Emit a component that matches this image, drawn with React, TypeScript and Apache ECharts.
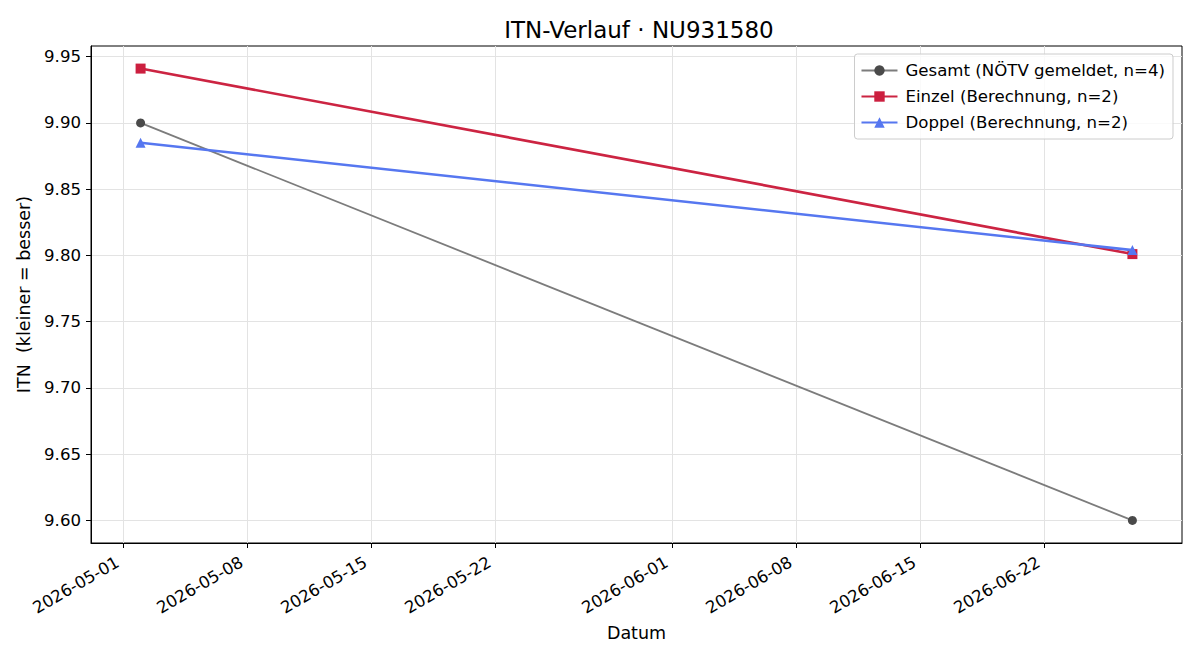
import React, { useEffect, useRef } from "react";
import * as echarts from "echarts";

// Messpunkte (Datum, ITN-Wert)
const gesamtDates = ["2026-05-02", "2026-06-27"];
const gesamtValues = [9.9, 9.6];
const einzelDates = ["2026-05-02", "2026-06-27"];
const einzelValues = [9.941, 9.801];
const doppelDates = ["2026-05-02", "2026-06-27"];
const doppelValues = [9.885, 9.804];

// Achsenbeschriftung
const xTickDates = [
  "2026-05-01",
  "2026-05-08",
  "2026-05-15",
  "2026-05-22",
  "2026-06-01",
  "2026-06-08",
  "2026-06-15",
  "2026-06-22",
];
const yTicks = [9.6, 9.65, 9.7, 9.75, 9.8, 9.85, 9.9, 9.95];

const toTime = (s: string) => {
  const [y, m, d] = s.split("-").map(Number);
  return new Date(y, m - 1, d).getTime();
};
const pad = (n: number) => (n < 10 ? "0" + n : "" + n);
const fmtDate = (t: number) => {
  const d = new Date(t);
  return `${d.getFullYear()}-${pad(d.getMonth() + 1)}-${pad(d.getDate())}`;
};

const FONT = "DejaVu Sans";

export default function App() {
  const ref = useRef<HTMLDivElement>(null);

  useEffect(() => {
    if (!ref.current) return;
    const chart = echarts.init(ref.current, undefined, { renderer: "svg" });

    const allT = [...gesamtDates, ...einzelDates, ...doppelDates].map(toTime);
    const tMin = Math.min(...allT);
    const tMax = Math.max(...allT);
    const tPad = (tMax - tMin) * 0.05;
    const allV = [...gesamtValues, ...einzelValues, ...doppelValues];
    const vMin = Math.min(...allV);
    const vMax = Math.max(...allV);
    const vPad = (vMax - vMin) * 0.05;

    const pairs = (dates: string[], vals: number[]) =>
      dates.map((d, i) => [toTime(d), vals[i]]);
    const xTickTimes = xTickDates.map(toTime);

    chart.setOption({
      animation: false,
      textStyle: { fontFamily: FONT },
      title: {
        text: "ITN-Verlauf · NU931580",
        left: 634,
        textAlign: "center",
        top: 13,
        textStyle: { fontFamily: FONT, fontSize: 23, fontWeight: "normal", color: "#000" },
      },
      legend: {
        orient: "vertical",
        right: 27,
        top: 54,
        padding: [8, 8, 8, 6],
        itemGap: 9,
        itemWidth: 36,
        itemHeight: 13,
        backgroundColor: "rgba(255,255,255,0.8)",
        borderColor: "#cccccc",
        borderWidth: 1,
        borderRadius: 3,
        textStyle: { fontFamily: FONT, fontSize: 16.6, color: "#000", padding: [0, 0, 0, 3] },
      },
      grid: {
        left: 91,
        right: 18,
        top: 46,
        bottom: 117,
        show: true,
        borderColor: "#000",
        borderWidth: 1,
        backgroundColor: "transparent",
      },
      xAxis: {
        type: "value",
        min: tMin - tPad,
        max: tMax + tPad,
        name: "Datum",
        nameLocation: "middle",
        nameGap: 81,
        nameTextStyle: { fontFamily: FONT, fontSize: 17.5, color: "#000" },
        axisLine: { show: true, lineStyle: { color: "#000", width: 1 } },
        axisTick: {
          show: true,
          length: 5,
          lineStyle: { color: "#000" },
          customValues: xTickTimes,
        },
        axisLabel: {
          rotate: 30,
          margin: 15,
          padding: [0, 6, 0, 0],
          fontFamily: FONT,
          fontSize: 16.6,
          color: "#000",
          customValues: xTickTimes,
          formatter: (v: number) => fmtDate(v),
        },
        splitLine: { show: true, lineStyle: { color: "#e3e3e3", width: 1 } },
      },
      yAxis: {
        type: "value",
        min: vMin - vPad,
        max: vMax + vPad,
        name: "ITN  (kleiner = besser)",
        nameLocation: "middle",
        nameGap: 54,
        nameTextStyle: { fontFamily: FONT, fontSize: 17.5, color: "#000" },
        axisLine: { show: true, lineStyle: { color: "#000", width: 1 } },
        axisTick: {
          show: true,
          length: 5,
          lineStyle: { color: "#000" },
          customValues: yTicks,
        },
        axisLabel: {
          margin: 10,
          fontFamily: FONT,
          fontSize: 16.6,
          color: "#000",
          customValues: yTicks,
          formatter: (v: number) => v.toFixed(2),
        },
        splitLine: { show: true, lineStyle: { color: "#e3e3e3", width: 1 } },
      },
      series: [
        {
          name: "Gesamt (NÖTV gemeldet, n=4)",
          type: "line",
          data: pairs(gesamtDates, gesamtValues),
          symbol: "circle",
          symbolSize: 9,
          lineStyle: { color: "#7c7c7c", width: 1.8 },
          itemStyle: { color: "#4a4a4a" },
          z: 3,
        },
        {
          name: "Einzel (Berechnung, n=2)",
          type: "line",
          data: pairs(einzelDates, einzelValues),
          symbol: "rect",
          symbolSize: 10,
          lineStyle: { color: "#cc2442", width: 2.6 },
          itemStyle: { color: "#cc1f3f" },
          z: 4,
        },
        {
          name: "Doppel (Berechnung, n=2)",
          type: "line",
          data: pairs(doppelDates, doppelValues),
          symbol: "triangle",
          symbolSize: 10,
          lineStyle: { color: "#5677f0", width: 2.6 },
          itemStyle: { color: "#5677f0" },
          z: 5,
        },
      ],
    });

    return () => chart.dispose();
  }, []);

  return <div ref={ref} style={{ width: 1200, height: 660, margin: -8 }} />;
}
